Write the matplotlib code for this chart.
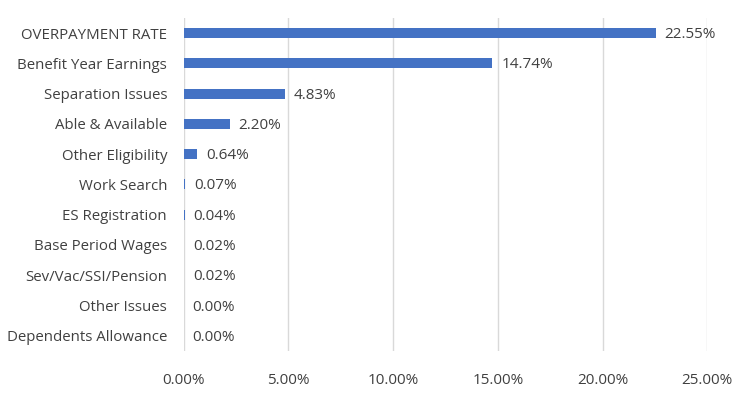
import numpy as np
from matplotlib import pyplot as plt
from matplotlib.ticker import FuncFormatter

categories = ["OVERPAYMENT RATE", "Benefit Year Earnings", "Separation Issues",
              "Able & Available", "Other Eligibility", "Work Search",
              "ES Registration", "Base Period Wages", "Sev/Vac/SSI/Pension",
              "Other Issues", "Dependents Allowance"]
rates = [22.55, 14.74, 4.83, 2.20, 0.64, 0.07, 0.04, 0.02, 0.02, 0.00, 0.00]
x_ticks = [0, 5, 10, 15, 20, 25]

plt.rcParams['font.family'] = ['Open Sans', 'DejaVu Sans']
text_color = "#404040"

fig = plt.figure(figsize=(7.5, 3.97), dpi=100)
ax = fig.add_axes([0.245, 0.116, 0.698, 0.839])

y = np.arange(len(categories))
ax.barh(y, rates, height=0.33, color="#4472C4", zorder=3)
for yi, v in zip(y, rates):
    ax.text(v + 0.42, yi + 0.05, f"{v:.2f}%", va="center", ha="left",
            fontsize=11, color=text_color)

ax.set_yticks(y)
ax.set_yticklabels(categories, fontsize=10.8, color=text_color)
ax.set_ylim(len(categories) - 0.5, -0.5)
ax.set_xlim(0, 25)
ax.set_xticks(x_ticks)
ax.xaxis.set_major_formatter(FuncFormatter(lambda v, p: f"{v:.2f}%"))
ax.tick_params(axis="x", labelsize=11, colors=text_color, length=0, pad=16)
ax.tick_params(axis="y", length=0, pad=12)
ax.grid(axis="x", color="#D9D9D9", linewidth=1, zorder=0)
for s in ax.spines.values():
    s.set_visible(False)

fig.savefig("out.png", dpi=100)
